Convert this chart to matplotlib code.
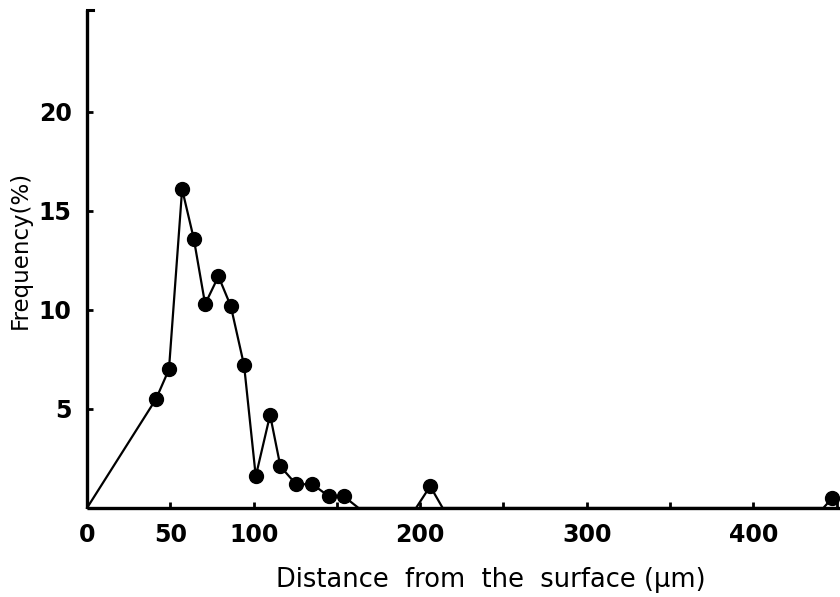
import matplotlib
matplotlib.use("Agg")
import matplotlib.pyplot as plt
from matplotlib.lines import Line2D
from matplotlib.ticker import FixedLocator, FixedFormatter
from matplotlib.font_manager import FontProperties

# Distance from the surface (um) and frequency (%) for the measured points
distance = [41.4, 49.2, 57.1, 64.1, 70.9, 78.9, 86.3, 94.3, 101.3, 109.9,
            116.1, 125.5, 135.3, 145.0, 154.0, 206.0, 447.3]
frequency = [5.5, 7.0, 16.1, 13.6, 10.3, 11.7, 10.2, 7.2, 1.6, 4.7,
             2.1, 1.2, 1.2, 0.6, 0.6, 1.1, 0.5]

# Zero-frequency points where the line meets the axis
line_x = [0, 41.4, 49.2, 57.1, 64.1, 70.9, 78.9, 86.3, 94.3, 101.3, 109.9,
          116.1, 125.5, 135.3, 145.0, 154.0, 163.0, 197.5, 206.0, 213.5,
          442.0, 447.3]
line_y = [0, 5.5, 7.0, 16.1, 13.6, 10.3, 11.7, 10.2, 7.2, 1.6, 4.7,
          2.1, 1.2, 1.2, 0.6, 0.6, 0.0, 0.0, 1.1, 0.0, 0.0, 0.5]

x_ticks = [0, 50, 100, 150, 200, 250, 300, 350, 400, 450]
x_tick_labels = ["0", "50", "100", "", "200", "", "300", "", "400", ""]
y_ticks = [5, 10, 15, 20]
y_tick_labels = ["5", "10", "15", "20"]

fig = plt.figure(figsize=(8.4, 5.97), dpi=100)
ax = fig.add_axes([87/840, 1 - 508/597, 1 - 87/840, (508 - 10)/597])

ax.plot(line_x, line_y, color="black", lw=1.6, clip_on=False, zorder=2)
ax.plot(distance, frequency, "o", color="black", ms=10, clip_on=False, zorder=3)

ax.set_xlim(0, 452)
ax.set_ylim(0, 25.15)

for s in ["top", "right"]:
    ax.spines[s].set_visible(False)
for s in ["left", "bottom"]:
    ax.spines[s].set_linewidth(2.4)
    ax.spines[s].set_capstyle("butt")

# small hook at the top of the y axis
ax.add_line(Line2D([0, 0.008], [1, 1], transform=ax.transAxes, color="black",
                   lw=2.2, clip_on=False))

tick_fp = FontProperties(family=["DejaVu Sans"], weight="bold", size=17)
ax.xaxis.set_major_locator(FixedLocator(x_ticks))
ax.xaxis.set_major_formatter(FixedFormatter(x_tick_labels))
ax.yaxis.set_major_locator(FixedLocator(y_ticks))
ax.yaxis.set_major_formatter(FixedFormatter(y_tick_labels))
ax.tick_params(axis="both", direction="in", length=4, width=2, pad=11)
for lab in ax.get_xticklabels() + ax.get_yticklabels():
    lab.set_fontproperties(tick_fp)

ax.set_xlabel("Distance  from  the  surface (\u03bcm)", family="DejaVu Sans", size=18.5)
ax.set_ylabel("Frequency(%)", family="DejaVu Sans", size=16.5)
ax.xaxis.set_label_coords((491 - 87) / (840 - 87), -0.118)
ax.yaxis.set_label_coords(-(87 - 32) / (840 - 87), (508 - 250) / 498)

fig.savefig("out.png", dpi=100)
